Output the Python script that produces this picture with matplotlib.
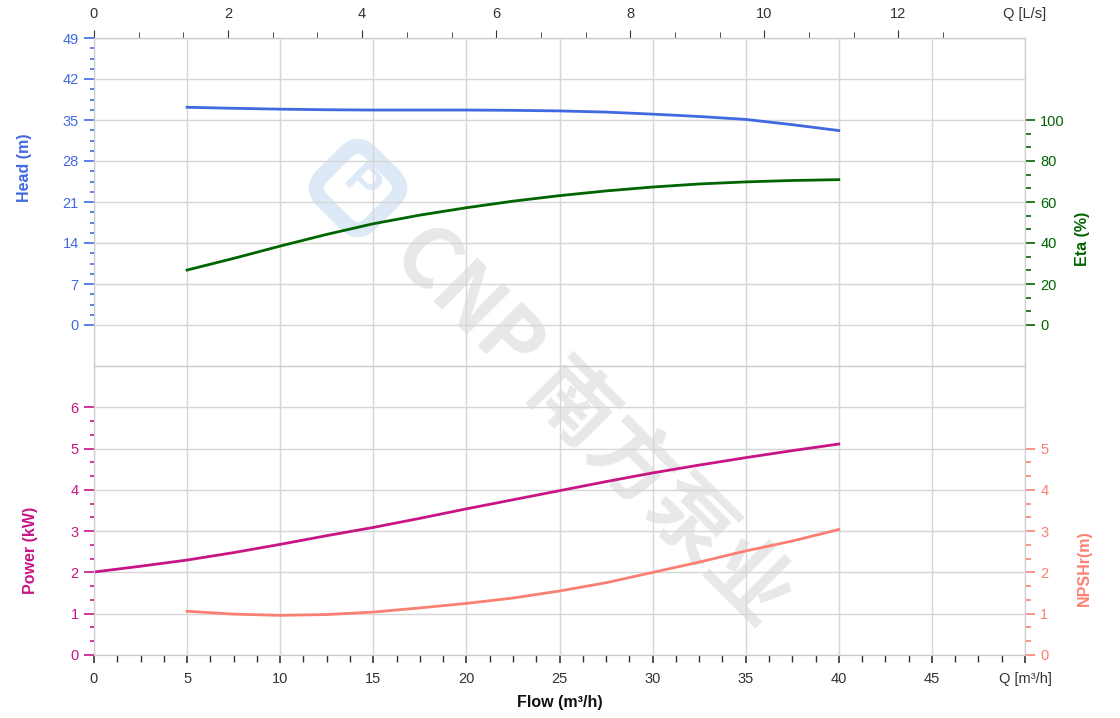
import numpy as np
import matplotlib.pyplot as plt
from matplotlib.ticker import FixedLocator
from matplotlib.patches import FancyBboxPatch
import matplotlib.transforms as mtransforms

plt.rcParams['font.family'] = ['Liberation Sans', 'DejaVu Sans']

# curve readings (flow in m3/h)
flow_head = [5, 7.5, 10, 12.5, 15, 17.5, 20, 22.5, 25, 27.5, 30, 32.5, 35, 37.5, 40]
head = [37.17, 37.0, 36.85, 36.75, 36.7, 36.7, 36.7, 36.65, 36.55, 36.35, 36.0, 35.6, 35.1, 34.2, 33.2]

flow_eta = [5, 7.5, 10, 12.5, 15, 17.5, 20, 22.5, 25, 27.5, 30, 32.5, 35, 37.5, 40]
eta = [26.8, 32.5, 38.5, 44.2, 49.4, 53.6, 57.2, 60.4, 63.1, 65.4, 67.3, 68.8, 69.8, 70.5, 70.9]

flow_power = [0, 2.5, 5, 7.5, 10, 12.5, 15, 17.5, 20, 22.5, 25, 27.5, 30, 32.5, 35, 37.5, 40]
power = [2.01, 2.15, 2.30, 2.48, 2.68, 2.89, 3.09, 3.31, 3.54, 3.76, 3.98, 4.20, 4.41, 4.60, 4.78, 4.95, 5.11]

flow_npsh = [5, 7.5, 10, 12.5, 15, 17.5, 20, 22.5, 25, 27.5, 30, 32.5, 35, 37.5, 40]
npsh = [1.06, 0.99, 0.96, 0.98, 1.04, 1.14, 1.25, 1.38, 1.55, 1.75, 2.0, 2.25, 2.52, 2.76, 3.04]

flow_ticks = [0, 5, 10, 15, 20, 25, 30, 35, 40, 45, 50]
flow_labels = ['0', '5', '10', '15', '20', '25', '30', '35', '40', '45', 'Q [m³/h]']
ls_ticks = [0, 2, 4, 6, 8, 10, 12]
head_ticks = [0, 7, 14, 21, 28, 35, 42, 49]
eta_ticks = [0, 20, 40, 60, 80, 100]
power_ticks = [0, 1, 2, 3, 4, 5, 6]
npsh_ticks = [0, 1, 2, 3, 4, 5]

c_head = '#4169E1'
c_eta = '#006400'
c_power = '#C71585'
c_npsh = '#FA8072'
c_grid = '#d6d6d6'

W, H = 1120, 718
fig = plt.figure(figsize=(W / 100, H / 100), dpi=100)
fig.patch.set_facecolor('white')

L, R, T, M, B = 94, 1025, 38, 366, 655
def fx(p):
    return p / W
def fy(p):
    return 1 - p / H

# watermark behind everything (pixel coords, y down)
bg = fig.add_axes([0, 0, 1, 1], zorder=-1)
bg.set_xlim(0, W)
bg.set_ylim(H, 0)
bg.axis('off')
logo = FancyBboxPatch((328, 158), 60, 60, boxstyle='round,pad=4,rounding_size=18',
                      fill=False, lw=11, ec='#dde9f6')
logo.set_transform(mtransforms.Affine2D().rotate_deg_around(358, 188, 45) + bg.transData)
bg.add_patch(logo)
bg.text(360, 186, 'P', rotation=-45, fontsize=34, fontweight='bold', color='#dde9f6',
        ha='center', va='center')
bg.text(592, 425, 'CNP 南方泵业', rotation=-45, fontsize=60, fontweight='bold',
        color='#e8e8e8', ha='center', va='center', rotation_mode='anchor',
        family=['Noto Sans CJK SC', 'DejaVu Sans'])

ax_top = fig.add_axes([fx(L), fy(M), fx(R) - fx(L), fy(T) - fy(M)])
ax_bot = fig.add_axes([fx(L), fy(B), fx(R) - fx(L), fy(M) - fy(B)])

for ax in (ax_top, ax_bot):
    ax.set_facecolor('none')
    ax.set_xlim(0, 50)
    ax.set_xticks(flow_ticks)
    ax.grid(True, color=c_grid, lw=1)
    for s in ax.spines.values():
        s.set_color('#cccccc')

# ---- upper panel: head + eta
ax_top.set_ylim(-7, 49)
ax_top.plot(flow_head, head, color=c_head, lw=2, zorder=3)
ax_top.set_yticks(head_ticks)
ax_top.yaxis.set_minor_locator(FixedLocator([v for v in np.arange(0, 49.01, 1.75) if v % 7]))
ax_top.tick_params(axis='x', which='both', bottom=False, labelbottom=False)
ax_top.tick_params(axis='y', which='major', colors=c_head, labelcolor=c_head, length=7,
                   width=1.2, pad=4, labelsize=10.5)
ax_top.tick_params(axis='y', which='minor', colors=c_head, length=3, width=1.2)

ax_eta = ax_top.twinx()
ax_eta.set_ylim(-20, 140)
ax_eta.plot(flow_eta, eta, color=c_eta, lw=2, zorder=3)
ax_eta.set_yticks(eta_ticks)
ax_eta.yaxis.set_minor_locator(FixedLocator([v for v in np.arange(0, 100.01, 20 / 3) if round(v) % 20]))
ax_eta.tick_params(axis='y', which='major', colors=c_eta, labelcolor=c_eta, length=7,
                   width=1.2, pad=4, labelsize=10.5)
ax_eta.tick_params(axis='y', which='minor', colors=c_eta, length=4, width=1.2)
for s in ax_eta.spines.values():
    s.set_color('#cccccc')

sec = ax_top.secondary_xaxis('top', functions=(lambda q: q / 3.6, lambda l: l * 3.6))
sec.set_xticks(ls_ticks)
sec.xaxis.set_minor_locator(FixedLocator([v for v in np.arange(0, 12.7, 2 / 3) if round(v * 3) % 6]))
sec.tick_params(which='major', length=6, color='#333333', labelsize=10.5, pad=6, labelcolor='#333333')
sec.tick_params(which='minor', length=4, color='#333333')
sec.spines['top'].set_color('#cccccc')
ax_top.annotate('Q [L/s]', xy=(50, 1), xycoords=('data', 'axes fraction'), xytext=(0, 12),
                textcoords='offset points', ha='center', va='bottom', fontsize=10.5, color='#333333')

# ---- lower panel: power + npsh
ax_bot.set_ylim(0, 7)
ax_bot.plot(flow_power, power, color=c_power, lw=2, zorder=3)
ax_bot.set_yticks(power_ticks)
ax_bot.yaxis.set_minor_locator(FixedLocator([v for v in np.arange(0, 6.01, 1 / 3) if round(v * 3) % 3]))
ax_bot.set_xticklabels(flow_labels)
ax_bot.xaxis.set_minor_locator(FixedLocator([v for v in np.arange(0, 50.01, 1.25) if v % 5]))
ax_bot.tick_params(axis='x', which='major', length=6, width=1.2, color='#333333', labelsize=10.5,
                   pad=6, labelcolor='#333333')
ax_bot.tick_params(axis='x', which='minor', length=5, width=1, color='#333333')
ax_bot.tick_params(axis='y', which='major', colors=c_power, labelcolor=c_power, length=7,
                   width=1.2, pad=4, labelsize=10.5)
ax_bot.tick_params(axis='y', which='minor', colors=c_power, length=3, width=1.2)

ax_np = ax_bot.twinx()
ax_np.set_ylim(0, 7)
ax_np.plot(flow_npsh, npsh, color=c_npsh, lw=2, zorder=3)
ax_np.set_yticks(npsh_ticks)
ax_np.yaxis.set_minor_locator(FixedLocator([v for v in np.arange(0, 5.01, 1 / 3) if round(v * 3) % 3]))
ax_np.tick_params(axis='y', which='major', colors=c_npsh, labelcolor=c_npsh, length=7,
                  width=1.2, pad=4, labelsize=10.5)
ax_np.tick_params(axis='y', which='minor', colors=c_npsh, length=4, width=1.2)
for s in ax_np.spines.values():
    s.set_color('#cccccc')

# axis titles
fig.text(fx(25), fy(168), 'Head (m)', rotation=90, ha='center', va='center',
         fontsize=11.5, fontweight='bold', color=c_head)
fig.text(fx(1083), fy(239), 'Eta (%)', rotation=90, ha='center', va='center',
         fontsize=11.5, fontweight='bold', color=c_eta)
fig.text(fx(30), fy(550), 'Power (kW)', rotation=90, ha='center', va='center',
         fontsize=11.5, fontweight='bold', color=c_power)
fig.text(fx(1084), fy(568), 'NPSHr(m)', rotation=90, ha='center', va='center',
         fontsize=11.5, fontweight='bold', color=c_npsh)
fig.text(fx(560), fy(703), 'Flow (m³/h)', ha='center', va='center',
         fontsize=11.5, fontweight='bold', color='#111111')

fig.savefig('out.png', dpi=100)
